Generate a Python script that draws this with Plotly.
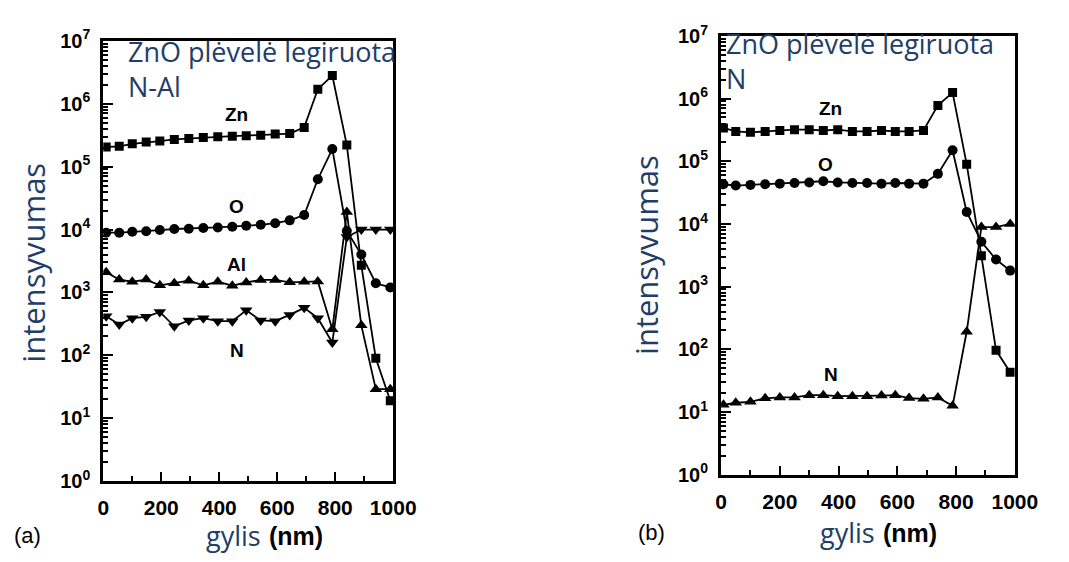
import plotly.graph_objects as go

# ---- panel (a): ZnO film doped with N-Al ----
depth_a = [10, 55, 100, 148, 195, 245, 295, 345, 395, 445, 493, 543, 593, 643,
           693, 740, 790, 840, 890, 940, 990]
zn_a = [2.05e5, 2.1e5, 2.3e5, 2.45e5, 2.55e5, 2.7e5, 2.8e5, 2.9e5, 2.97e5, 3.05e5,
        3.1e5, 3.16e5, 3.3e5, 3.35e5, 4.2e5, 1.7e6, 2.8e6, 2.2e5, 2.7e3, 90, 19]
o_a = [8.9e3, 8.9e3, 9.2e3, 9.4e3, 9.8e3, 1.02e4, 1.03e4, 1.06e4, 1.08e4, 1.11e4,
       1.15e4, 1.19e4, 1.26e4, 1.4e4, 1.7e4, 6.3e4, 1.9e5, 9.5e3, 4.0e3, 1.4e3, 1.2e3]
al_a = [2.1e3, 1.6e3, 1.48e3, 1.6e3, 1.3e3, 1.4e3, 1.54e3, 1.3e3, 1.48e3, 1.28e3,
        1.44e3, 1.58e3, 1.58e3, 1.45e3, 1.48e3, 1.5e3, 2.6e2, 1.9e4, 3.0e2, 29, 29]
n_a = [4.2e2, 3.1e2, 3.9e2, 4.1e2, 4.9e2, 2.9e2, 3.6e2, 3.9e2, 3.5e2, 3.5e2,
       5.2e2, 3.6e2, 3.5e2, 4.4e2, 5.7e2, 3.9e2, 1.6e2, 7.6e3, 1.0e4, 1.0e4, 1.0e4]

# ---- panel (b): ZnO film doped with N ----
depth_b = [8, 50, 100, 150, 200, 250, 300, 348, 397, 447, 497, 546, 593, 640,
           689, 738, 788, 836, 886, 936, 984]
zn_b = [3.4e5, 3.0e5, 2.9e5, 3.0e5, 3.1e5, 3.2e5, 3.2e5, 3.1e5, 3.2e5, 3.0e5,
        3.0e5, 3.1e5, 3.0e5, 3.0e5, 3.1e5, 7.8e5, 1.25e6, 9.0e4, 3.1e3, 96, 43]
o_b = [4.3e4, 4.1e4, 4.2e4, 4.3e4, 4.4e4, 4.5e4, 4.6e4, 4.8e4, 4.6e4, 4.5e4,
       4.5e4, 4.4e4, 4.5e4, 4.4e4, 4.4e4, 6.3e4, 1.5e5, 1.55e4, 5.2e3, 2.7e3, 1.8e3]
n_b = [13, 14, 14.5, 16.5, 17, 17, 18.5, 18.5, 17.8, 17.8,
       17.8, 18.2, 18.5, 16.6, 16.2, 17, 12.5, 1.9e2, 8.9e3, 8.9e3, 1.0e4]

x_ticks = [0, 200, 400, 600, 800, 1000]
x_minor = [100, 300, 500, 700, 900]
y_ticks = [10 ** k for k in range(8)]
y_ticktext = ["<b>10<sup>%d</sup></b>" % k for k in range(8)]
y_minor = [m * 10 ** d for d in range(7) for m in range(2, 10)]

TEXT_BLUE = "#223E68"
XTICK_FONT = dict(family="Liberation Sans, Arial", size=21, color="black")
YTICK_FONT = dict(family="Liberation Sans, Arial", size=20, color="black")

fig = go.Figure()


def add_series(x, y, symbol, size, xa, ya):
    fig.add_trace(go.Scatter(
        x=x, y=y, mode="lines+markers", xaxis=xa, yaxis=ya,
        line=dict(color="black", width=1.8),
        marker=dict(symbol=symbol, size=size, color="black"),
        showlegend=False, cliponaxis=True))


add_series(depth_a, zn_a, "square", 9, "x", "y")
add_series(depth_a, o_a, "circle", 10, "x", "y")
add_series(depth_a, al_a, "triangle-up", 11, "x", "y")
add_series(depth_a, n_a, "triangle-down", 11, "x", "y")

add_series(depth_b, zn_b, "square", 9, "x2", "y2")
add_series(depth_b, o_b, "circle", 10, "x2", "y2")
add_series(depth_b, n_b, "triangle-up", 11, "x2", "y2")

W, H = 1069, 562


def px_x(p):
    return p / W


def px_y(p):
    return 1 - p / H


def xaxis_cfg(x0, x1, anchor):
    return dict(domain=[px_x(x0), px_x(x1)], anchor=anchor, range=[0, 1000],
                tickvals=x_ticks, ticktext=["<b>%d</b>" % v for v in x_ticks],
                tickfont=XTICK_FONT, ticks="inside", ticklen=9, tickwidth=2,
                tickcolor="black", showgrid=False, zeroline=False,
                showline=True, linecolor="black", linewidth=3, mirror=True,
                ticklabelstandoff=6,
                minor=dict(tickvals=x_minor, ticks="inside", ticklen=5,
                           tickwidth=2, tickcolor="black", showgrid=False))


def yaxis_cfg(y0, y1, anchor):
    return dict(domain=[px_y(y1), px_y(y0)], anchor=anchor, type="log",
                range=[0, 7], tickvals=y_ticks, ticktext=y_ticktext,
                tickfont=YTICK_FONT, ticks="inside", ticklen=10, tickwidth=2,
                tickcolor="black", showgrid=False, zeroline=False,
                showline=True, linecolor="black", linewidth=3, mirror=True,
                ticklabelstandoff=6,
                minor=dict(tickvals=y_minor, ticks="inside", ticklen=5,
                           tickwidth=1.5, tickcolor="black", showgrid=False))


fig.update_layout(
    width=W, height=H, margin=dict(l=0, r=0, t=0, b=0),
    paper_bgcolor="white", plot_bgcolor="white",
    xaxis=xaxis_cfg(100, 398, "y"),
    yaxis=yaxis_cfg(28, 489, "x"),
    xaxis2=xaxis_cfg(735, 1037, "y2"),
    yaxis2=yaxis_cfg(23, 482, "x2"),
)

ann = []
TITLE_FONT = dict(family="Open Sans", size=27, color=TEXT_BLUE)
LBL_FONT = dict(family="Liberation Sans, Arial", size=19, color="black")


def paper_text(text, x, y, font, xanchor="left", yanchor="middle", angle=0):
    ann.append(dict(text=text, x=px_x(x), y=px_y(y), xref="paper", yref="paper",
                    xanchor=xanchor, yanchor=yanchor, showarrow=False,
                    font=font, textangle=angle))


# headings inside the frames
paper_text("ZnO plėvelė legiruota", 123, 39, TITLE_FONT)
paper_text("N-Al", 123, 76, TITLE_FONT)
paper_text("ZnO plėvelė legiruota", 738, 31, TITLE_FONT)
paper_text("N", 738, 67, TITLE_FONT)

# element labels next to the curves
for txt, xv, yv, xr, yr in [("Zn", 460, 5.83, "x", "y"), ("O", 460, 4.36, "x", "y"),
                            ("Al", 460, 3.44, "x", "y"), ("N", 460, 2.08, "x", "y"),
                            ("Zn", 371, 5.85, "x2", "y2"), ("O", 354, 4.95, "x2", "y2"),
                            ("N", 374, 1.59, "x2", "y2")]:
    ann.append(dict(text="<b>%s</b>" % txt, x=xv, y=yv, xref=xr, yref=yr,
                    showarrow=False, font=LBL_FONT))

# axis titles
AX_BLUE_V = dict(family="Open Sans", size=31, color=TEXT_BLUE)
AX_BLUE = dict(family="Open Sans", size=27, color=TEXT_BLUE)
AX_BLACK = dict(family="Liberation Sans, Arial", size=25, color="black")
paper_text("intensyvumas", 28, 260, AX_BLUE_V, xanchor="center", angle=-90)
paper_text("intensyvumas", 658, 252, AX_BLUE_V, xanchor="center", angle=-90)
paper_text("gylis", 264, 546, AX_BLUE, xanchor="right")
paper_text("<b>(nm)</b>", 268, 546, AX_BLACK)
paper_text("gylis", 895, 543, AX_BLUE, xanchor="right")
paper_text("<b>(nm)</b>", 899, 543, AX_BLACK)

# panel letters
PANEL_FONT = dict(family="Liberation Sans, Arial", size=22, color="black")
paper_text("(a)", 6, 546, PANEL_FONT)
paper_text("(b)", 648, 543, PANEL_FONT)

fig.update_layout(annotations=ann)
fig.write_html("out.html")
